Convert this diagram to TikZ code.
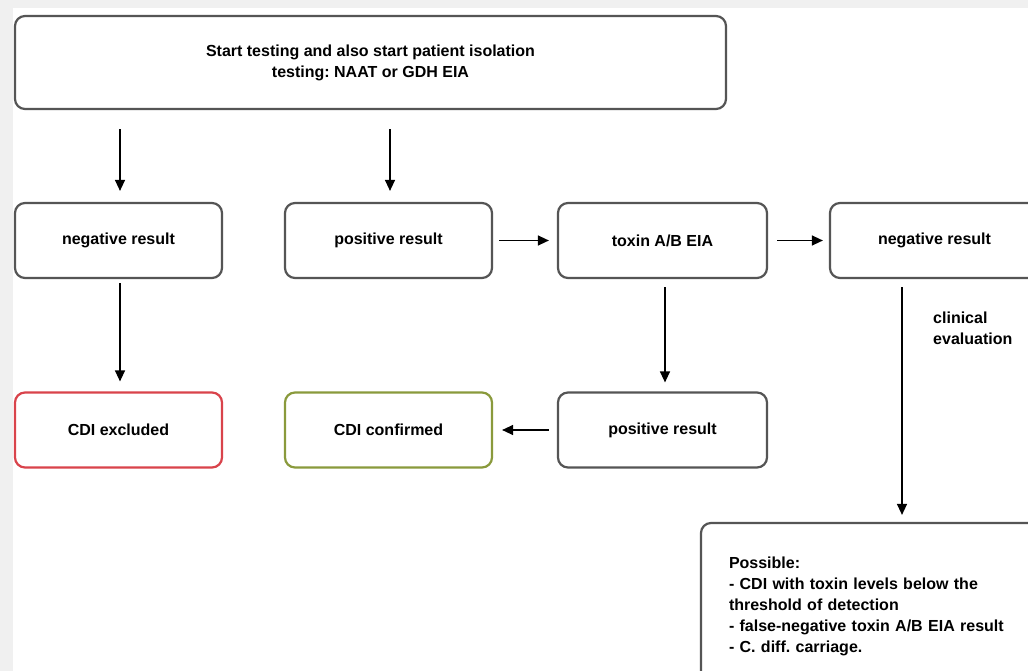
\documentclass[tikz,border=0pt]{standalone}
\usepackage{fontspec}
\setmainfont{Liberation Sans}
\usetikzlibrary{arrows.meta}
\definecolor{boxgray}{HTML}{555555}
\definecolor{exred}{HTML}{D9434B}
\definecolor{okgreen}{HTML}{8A9A3C}
\definecolor{bggray}{HTML}{F0F0F0}
\frenchspacing
\begin{document}
\begin{tikzpicture}[x=1pt,y=-1pt,
  box/.style={draw=boxgray, line width=2.2pt, rounded corners=10pt, fill=white,
    font=\fontsize{16}{21}\selectfont\bfseries, align=center, inner sep=0pt,
    minimum width=207pt, minimum height=75pt},
  arr/.style={-{Triangle[length=11pt,width=10pt]}, line width=1.3pt, black},
  lbl/.style={font=\fontsize{16}{21}\selectfont\bfseries, align=left, inner sep=0pt}]
\useasboundingbox (0,0) rectangle (1028,671);
\clip (0,0) rectangle (1028,671);
\fill[white] (0,0) rectangle (1028,671);
\fill[bggray] (0,0) rectangle (1028,8);
\fill[bggray] (0,0) rectangle (13,671);

\node[box, minimum width=711pt, minimum height=93pt] (top) at (370.5,62.5)
  {Start testing and also start patient isolation\\testing: NAAT or GDH EIA};

\node[box] (n1) at (118.5,240.5) {negative result};
\node[box] (p1) at (388.5,240.5) {positive result};
\node[box, minimum width=209pt] (tox) at (662.5,240.5) {toxin A/B EIA};
\node[box, minimum width=209pt] (n2) at (934.5,240.5) {negative result};

\node[box, draw=exred] (ex) at (118.5,430) {CDI excluded};
\node[box, draw=okgreen] (conf) at (388.5,430) {CDI confirmed};
\node[box, minimum width=209pt] (p2) at (662.5,430) {positive result};

\node[box, align=left, text width=282pt, inner xsep=28pt, minimum width=338pt,
  minimum height=166pt] (poss) at (870,606)
  {Possible:\\- CDI with toxin levels below the\\threshold of detection\\- false-negative toxin A/B EIA result\\- C. diff. carriage.};

\draw[arr, shorten <=19pt, shorten >=11pt] ([xshift=1.5pt]n1.north |- top.south) -- ([xshift=1.5pt]n1.north);
\draw[arr, shorten <=19pt, shorten >=11pt] ([xshift=1.5pt]p1.north |- top.south) -- ([xshift=1.5pt]p1.north);
\draw[arr, shorten <=4pt, shorten >=10pt] ([xshift=1.5pt]n1.south) -- ([xshift=1.5pt]ex.north);
\draw[arr, shorten <=6pt, shorten >=8pt] (p1) -- (tox);
\draw[arr, shorten <=9pt, shorten >=6pt] (tox) -- (n2);
\draw[arr, shorten <=8pt, shorten >=9pt] ([xshift=2.5pt]tox.south) -- ([xshift=2.5pt]p2.north);
\draw[arr, shorten <=8pt, shorten >=9pt] (p2) -- (conf);
\draw[arr, shorten <=8pt, shorten >=7pt] ([xshift=-32.5pt]n2.south) -- ([xshift=-32.5pt]n2.south |- poss.north);

\node[lbl, anchor=west] (clin) at (933,328) {clinical\\evaluation};
\end{tikzpicture}
\end{document}
